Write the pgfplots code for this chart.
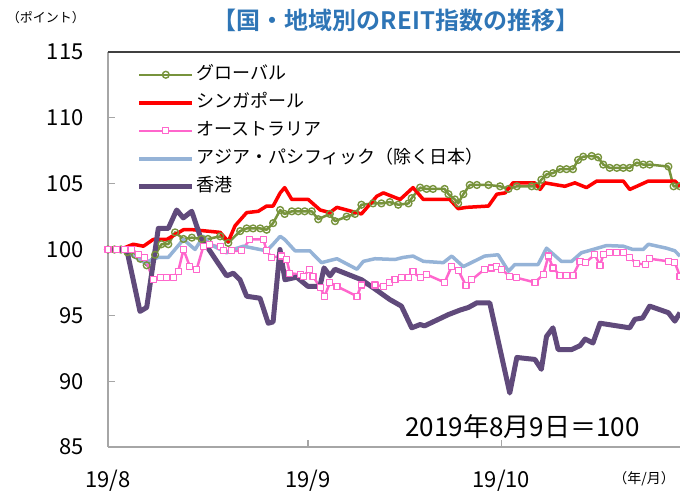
\documentclass[border=0pt]{standalone}
\usepackage{fontspec}
\setmainfont{Noto Sans CJK JP}[BoldFont={Noto Sans CJK JP Bold}]
\usepackage{pgfplots}
\pgfplotsset{compat=1.18}
\definecolor{cglob}{HTML}{77933C}
\definecolor{csing}{HTML}{FF0000}
\definecolor{caus}{HTML}{FF66CC}
\definecolor{capac}{HTML}{95B3D7}
\definecolor{chk}{HTML}{604A7B}
\definecolor{ctitle}{HTML}{2E75B6}
\definecolor{caxis}{HTML}{A6A6A6}
\definecolor{ctop}{HTML}{404040}
\begin{document}
\begin{tikzpicture}
\path[use as bounding box] (-108pt,-45pt) rectangle (572pt,447pt);
\begin{axis}[
  at={(0pt,0pt)}, anchor=south west,
  scale only axis, width=572pt, height=395pt,
  xmin=0, xmax=88.7, ymin=85, ymax=115,
  ytick={85,90,95,100,105,110,115},
  xtick={0,31,61}, xticklabels={19/8,19/9,19/10},
  every non boxed x axis/.style={}, every non boxed y axis/.style={},
  axis x line*=bottom, axis y line*=left,
  axis line style={-, caxis, line width=2pt},
  tick align=inside, major tick length=7pt,
  tick style={caxis, line width=1.2pt},
  ticklabel style={font=\fontsize{22}{22}\selectfont},
  /pgf/number format/assume math mode=true,
  yticklabel style={xshift=-21pt},
  xticklabel style={yshift=-20pt},
  legend style={draw=none, fill=none, at={(0.05,0.972)}, anchor=north west,
    inner sep=0pt, row sep=5pt,
    font=\fontsize{18}{18}\selectfont,
    nodes={inner sep=2pt, text height=14pt, text depth=5pt}},
  legend cell align=left,
  legend image code/.code={\draw[mark repeat=2,mark phase=2,#1] plot coordinates {(0pt,0pt) (26.5pt,0pt) (53pt,0pt)};},
  every axis plot/.append style={line join=round},
]
\draw[ctop, line width=1.5pt] (rel axis cs:0,1) -- (rel axis cs:1,1);

\addplot[cglob, line width=2.5pt, mark=o, mark size=3.4pt, mark options={fill=white, line width=1.4pt}] coordinates {
(0,100.0)(1,100.0)(2,100.0)(3,99.8)(4.2,99.6)(5,99.3)(6,98.8)(7.3,99.6)(8.3,100.4)(9.35,100.4)
(10.4,101.3)(11.7,100.8)(13.0,100.9)(14.5,100.8)(15.5,100.8)(17.4,101.0)(18.65,100.5)(20.5,101.4)
(21.5,101.6)(22.5,101.6)(23.6,101.6)(24.6,101.5)(25.6,102.0)(26.7,103.0)(27.4,102.7)(28.5,102.9)
(29.5,102.9)(30.5,102.9)(31.6,102.9)(32.6,102.3)(34.4,102.7)(35.2,102.15)(37.0,102.5)(38.3,102.7)
(39.3,103.4)(41.1,103.5)(42.4,103.5)(43.7,103.6)(45.0,103.4)(46.6,103.5)(47.1,103.9)(48.4,104.7)
(49.4,104.6)(50.4,104.6)(52.2,104.6)(52.8,104.2)(53.8,103.8)(54.3,103.5)(55.1,104.2)(56.1,104.9)
(57.2,104.9)(59.0,104.9)(60.8,104.8)(62.1,104.6)(63.4,104.8)(65.7,104.8)(66.5,104.8)(67.2,105.3)
(68.0,105.7)(69.0,105.8)(70.1,106.1)(71.1,106.1)(72.1,106.1)(72.9,106.8)(73.7,107.05)(75.0,107.1)
(76.0,107.0)(76.8,106.45)(77.8,106.2)(78.9,106.2)(79.9,106.2)(80.9,106.2)(82.0,106.6)(83.0,106.45)
(84.0,106.45)(86.9,106.3)(87.7,104.8)(88.7,104.8)
};
\addlegendentry{グローバル}

\addplot[csing, line width=3.5pt] coordinates {
(0,100.0)(1.9,100.0)(3.9,100.4)(5.5,100.25)(7.0,100.76)(9.1,100.76)(11.7,101.5)(13.2,101.5)
(17.4,101.3)(18.65,100.6)(19.7,101.8)(21.5,102.8)(23.3,102.9)(24.6,103.3)(25.6,103.3)(26.7,104.3)
(27.4,104.7)(28.5,103.8)(31.05,103.8)(32.9,103.0)(34.4,102.8)(35.5,103.2)(39.3,102.7)(41.7,104.05)
(42.7,104.3)(45.3,103.8)(47.3,104.7)(48.9,103.8)(53.0,103.8)(54.3,103.1)(55.6,103.2)(59.0,103.3)
(60.3,104.2)(61.6,104.3)(62.8,105.06)(66.2,105.06)(67.0,104.56)(67.75,105.06)(70.85,104.8)
(72.4,105.06)(74.2,104.7)(75.8,105.2)(79.9,105.2)(80.9,104.56)(82.0,104.8)(83.8,105.2)(87.9,105.2)(88.7,104.8)
};
\addlegendentry{シンガポール}

\addplot[caus, line width=2.5pt, mark=square*, mark size=3pt, mark options={fill=white, line width=1.2pt}] coordinates {
(0,100.0)(1.3,100.0)(2.6,100.0)(3.7,100.0)(4.7,99.6)(5.7,99.4)(7.0,97.7)(8.1,97.85)(9.1,97.85)
(10.1,97.85)(10.9,98.35)(11.7,100.0)(12.7,98.7)(13.75,98.5)(14.8,100.25)(15.8,100.4)(17.4,100.2)
(17.9,99.9)(19.2,99.9)(20.7,99.9)(22.0,100.76)(24.1,100.76)(24.6,99.9)(25.4,99.4)(26.9,99.5)
(27.7,99.24)(28.2,98.2)(29.8,98.1)(30.3,97.97)(31.3,98.5)(31.8,97.97)(32.9,97.1)(33.6,96.45)
(34.4,97.47)(35.5,97.2)(38.6,96.45)(39.3,97.3)(41.4,97.3)(42.7,97.2)(43.7,97.47)(44.5,97.7)
(45.5,97.85)(46.6,97.85)(47.3,98.3)(48.4,97.85)(49.4,98.1)(52.2,97.5)(53.3,98.73)(54.3,98.43)
(55.5,97.27)(56.4,97.7)(58.4,98.5)(59.5,98.6)(60.2,98.7)(61.0,98.5)(62.3,97.97)(63.4,97.85)
(66.2,97.5)(67.5,98.1)(68.3,99.5)(69.0,98.6)(70.1,98.03)(71.1,98.03)(72.1,98.03)(73.2,99.1)
(74.0,99.0)(75.5,99.6)(76.3,98.8)(76.8,99.6)(77.8,99.75)(78.9,99.75)(79.9,99.75)(80.9,99.37)
(82.0,98.94)(83.3,98.86)(84.0,99.3)(86.9,99.1)(87.9,99.0)(88.7,97.97)
};
\addlegendentry{オーストラリア}

\addplot[capac, line width=3.5pt] coordinates {
(0,100.0)(2.9,100.0)(3.9,99.5)(5.7,99.0)(7.8,99.4)(9.35,99.4)(11.7,100.76)(13.5,100.0)(14.8,101.0)
(15.8,100.4)(18.4,99.75)(19.4,100.0)(21.0,100.25)(24.6,99.9)(25.6,100.4)(26.7,101.0)(27.4,100.76)
(29.0,99.9)(31.3,99.9)(33.1,99.0)(35.5,99.3)(38.6,98.5)(39.6,99.1)(41.4,99.3)(44.5,99.24)
(45.8,99.4)(47.3,99.5)(48.9,99.1)(52.0,99.0)(53.3,99.5)(55.1,98.7)(58.4,99.5)(60.5,99.6)
(62.1,98.35)(63.1,98.86)(66.7,98.86)(68.0,100.1)(70.3,99.1)(71.9,99.1)(73.4,99.75)(75.2,100.0)
(77.3,100.3)(79.9,100.25)(81.4,100.0)(83.0,100.0)(83.8,100.4)(86.6,100.1)(87.9,99.9)(88.7,99.5)
};
\addlegendentry{アジア・パシフィック（除く日本）}

\addplot[chk, line width=5pt] coordinates {
(0,100.0)(2.9,100.0)(4.96,95.3)(6.0,95.6)(7.8,101.6)(9.35,101.6)(10.65,103.0)(11.67,102.4)
(12.98,102.9)(14.3,101.0)(16.33,99.5)(18.4,98.0)(19.43,98.2)(20.47,97.7)(21.5,96.45)(23.57,96.3)
(24.85,94.4)(25.6,94.5)(26.67,100.0)(27.44,97.7)(29.26,97.9)(31.0,97.2)(32.87,97.2)(33.5,98.6)
(34.42,98.0)(35.19,98.5)(39.33,97.7)(41.4,97.0)(43.7,96.2)(45.5,95.7)(47.1,94.05)(48.4,94.3)
(49.1,94.2)(52.8,95.06)(54.6,95.4)(55.9,95.6)(57.2,95.95)(59.2,95.95)(62.3,89.1)(63.4,91.8)
(66.2,91.65)(67.2,90.9)(68.0,93.4)(69.0,94.05)(69.8,92.4)(71.9,92.4)(73.2,92.7)(74.0,93.2)
(75.2,92.9)(76.3,94.4)(80.9,94.05)(81.7,94.7)(82.9,94.8)(84.0,95.7)(86.9,95.2)(87.9,94.56)(88.7,95.2)
};
\addlegendentry{香港}
\end{axis}
\node[font=\bfseries\fontsize{24}{24}\selectfont, text=ctitle] at (288pt,427pt) {【国・地域別のREIT指数の推移】};
\node[font=\fontsize{13}{13}\selectfont] at (-62pt,429pt) {（ポイント）};
\node[font=\fontsize{14}{14}\selectfont] at (536pt,-32pt) {（年/月）};
\node[font=\fontsize{26}{26}\selectfont] at (414.5pt,20pt) {2019年8月9日＝100};
\end{tikzpicture}
\end{document}
